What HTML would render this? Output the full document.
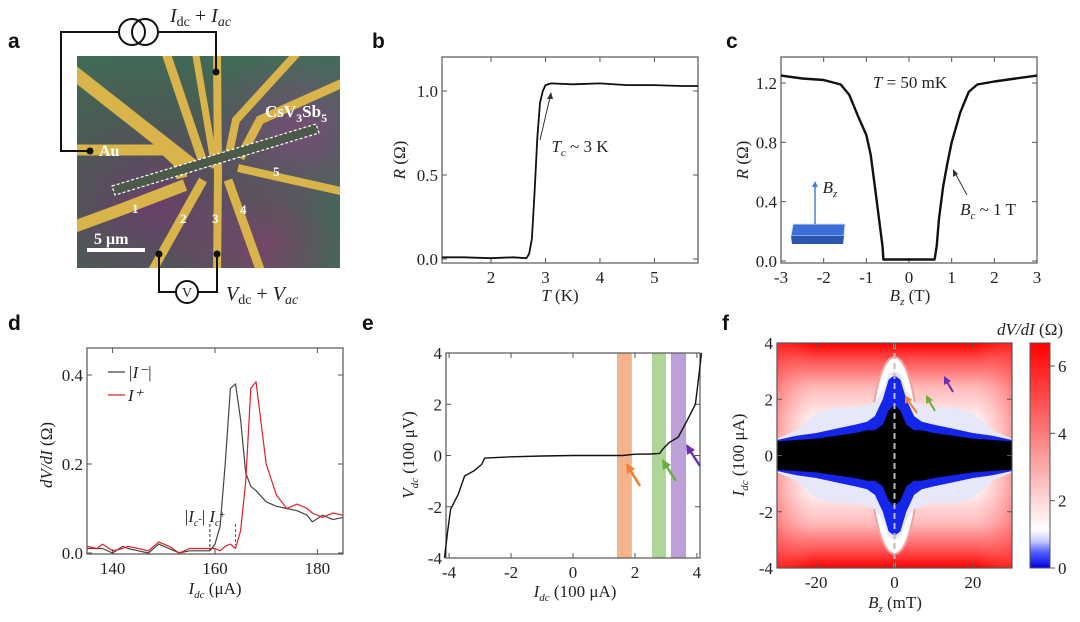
<!DOCTYPE html>
<html><head><meta charset="utf-8"><style>
html,body{margin:0;padding:0;background:#fff;width:1080px;height:622px;overflow:hidden}
svg{display:block}
text{font-family:"Liberation Serif",serif;fill:#222}
.pl{font-family:"Liberation Sans",sans-serif;font-weight:bold;font-size:21px;fill:#111}
.tk{font-size:17px}
.lb{font-size:17px}
</style></head><body>
<svg id="fig" width="1080" height="622" viewBox="0 0 1080 622" xmlns="http://www.w3.org/2000/svg">
<defs>
<radialGradient id="chip1" cx="0.3" cy="0.7" r="0.8"><stop offset="0" stop-color="#6a3f6a"/><stop offset="0.5" stop-color="#4b5a55"/><stop offset="1" stop-color="#3f6e55"/></radialGradient>
<radialGradient id="chip2" cx="0.85" cy="0.35" r="0.4"><stop offset="0" stop-color="#7a4a78" stop-opacity="0.9"/><stop offset="1" stop-color="#7a4a78" stop-opacity="0"/></radialGradient>
<radialGradient id="chip3" cx="0.7" cy="0.9" r="0.35"><stop offset="0" stop-color="#80406e" stop-opacity="0.8"/><stop offset="1" stop-color="#80406e" stop-opacity="0"/></radialGradient>
<linearGradient id="fbg" x1="0" y1="0" x2="0" y2="1">
<stop offset="0" stop-color="#f00"/><stop offset="0.08" stop-color="#f55"/><stop offset="0.2" stop-color="#fbb"/><stop offset="0.33" stop-color="#fee"/><stop offset="0.5" stop-color="#fff"/><stop offset="0.67" stop-color="#fee"/><stop offset="0.8" stop-color="#fbb"/><stop offset="0.92" stop-color="#f55"/><stop offset="1" stop-color="#f00"/></linearGradient>
<linearGradient id="fside" x1="0" y1="0" x2="1" y2="0">
<stop offset="0" stop-color="#f44" stop-opacity="0.5"/><stop offset="0.15" stop-color="#f88" stop-opacity="0"/><stop offset="0.85" stop-color="#f88" stop-opacity="0"/><stop offset="1" stop-color="#f44" stop-opacity="0.5"/></linearGradient>
<linearGradient id="cbar" x1="0" y1="1" x2="0" y2="0">
<stop offset="0" stop-color="#0000e0"/><stop offset="0.07" stop-color="#5060ff"/><stop offset="0.12" stop-color="#c8ccff"/><stop offset="0.17" stop-color="#fff"/><stop offset="0.5" stop-color="#fa9a9a"/><stop offset="1" stop-color="#f00"/></linearGradient>
<clipPath id="fclip"><rect x="777" y="343" width="235" height="225"/></clipPath>
<clipPath id="aclip"><rect x="77" y="56" width="263" height="212"/></clipPath>
</defs>

<text class="pl" x="8" y="48">a</text>
<text class="pl" x="372" y="48">b</text>
<text class="pl" x="726" y="48">c</text>
<text class="pl" x="8" y="330">d</text>
<text class="pl" x="362" y="330">e</text>
<text class="pl" x="722" y="330">f</text>

<g id="pa">
<g clip-path="url(#aclip)">
<rect x="77" y="56" width="263" height="212" fill="url(#chip1)"/>
<rect x="77" y="56" width="263" height="212" fill="url(#chip2)"/>
<rect x="77" y="56" width="263" height="212" fill="url(#chip3)"/>
<g fill="none" stroke="#d8b44a" stroke-linecap="butt">
<polyline points="60,150 165,150 178,162 182,178" stroke-width="11"/>
<polyline points="60,232 120,210 185,185" stroke-width="12"/>
<polyline points="60,62 195,168" stroke-width="14"/>
<polyline points="165,50 205,168" stroke-width="9"/>
<polyline points="195,50 215,168" stroke-width="7"/>
<polyline points="217,50 218,175 217,275" stroke-width="8"/>
<polyline points="203,180 150,275" stroke-width="9"/>
<polyline points="228,180 262,275" stroke-width="9"/>
<polyline points="238,168 345,192" stroke-width="8"/>
<polyline points="228,158 236,120 300,50" stroke-width="8"/>
<polyline points="240,158 260,120 345,82" stroke-width="9"/>
</g>
<polygon points="112,186 316,124 319,133 115,195" fill="#4c5a4a" stroke="#fff" stroke-width="1.2" stroke-dasharray="3,2"/>
</g>
<text x="265" y="117" style="fill:#fff;font-weight:bold;font-size:17px">CsV<tspan dy="5" font-size="12">3</tspan><tspan dy="-5">Sb</tspan><tspan dy="5" font-size="12">5</tspan></text>
<text x="99" y="156" style="fill:#fff;font-weight:bold;font-size:16px">Au</text>
<g style="font-weight:bold;font-size:13px">
<text x="132" y="213" style="fill:#fff">1</text><text x="180" y="223" style="fill:#fff">2</text><text x="212" y="223" style="fill:#fff">3</text><text x="240" y="214" style="fill:#fff">4</text><text x="273" y="176" style="fill:#fff">5</text>
<text x="94" y="244" style="fill:#fff;font-size:16px">5 μm</text>
</g>
<rect x="87" y="248" width="58" height="4" fill="#fff"/>
<g fill="none" stroke="#111" stroke-width="2">
<polyline points="90,151 61,151 61,32 119,32"/>
<polyline points="158,32 216,32 216,72"/>
<circle cx="132" cy="32" r="13"/><circle cx="145" cy="32" r="13"/>
<polyline points="159,254 159,292 176,292"/>
<polyline points="198,292 217,292 217,254"/>
<circle cx="187" cy="292" r="11"/>
</g>
<g fill="#111"><circle cx="90" cy="151" r="3.5"/><circle cx="216" cy="72" r="3.5"/><circle cx="159" cy="254" r="3.5"/><circle cx="217" cy="254" r="3.5"/></g>
<text x="182" y="297" style="font-size:14px">V</text>
<text x="170" y="22" style="font-size:20px"><tspan font-style="italic">I</tspan><tspan font-size="14" dy="4">dc</tspan><tspan dy="-4"> + </tspan><tspan font-style="italic">I</tspan><tspan font-size="14" dy="4" font-style="italic">ac</tspan></text>
<text x="226" y="300" style="font-size:20px"><tspan font-style="italic">V</tspan><tspan font-size="14" dy="4">dc</tspan><tspan dy="-4"> + </tspan><tspan font-style="italic">V</tspan><tspan font-size="14" dy="4" font-style="italic">ac</tspan></text>
</g>
</svg>
<script>
// ---- data ----
const bT=[1.1,1.5,2.0,2.4,2.65,2.7,2.75,2.8,2.85,2.9,2.95,3.0,3.1,3.5,4.0,4.5,5.0,5.5,5.8];
const bR=[0.01,0.01,0.005,0.01,0.005,0.03,0.12,0.4,0.72,0.93,1.0,1.035,1.045,1.04,1.045,1.035,1.035,1.03,1.03];
const bXT=[2,3,4,5], bYT=[0,0.5,1.0];
const cB=[-3,-2.5,-2,-1.6,-1.4,-1.2,-1,-0.9,-0.8,-0.7,-0.62,-0.6,0,0.6,0.65,0.7,0.8,0.9,1,1.2,1.4,1.6,2,2.5,3];
const cR=[1.25,1.23,1.22,1.19,1.12,0.98,0.85,0.72,0.5,0.28,0.1,0.01,0.01,0.01,0.1,0.28,0.5,0.66,0.8,1.0,1.14,1.19,1.21,1.23,1.25];
const cXT=[-3,-2,-1,0,1,2,3], cYT=[0,0.4,0.8,1.2];
const dI=[135,137,138,140,142,143,145,147,149,151,153,155,157,159,160,161,162,163,164,165,166,167,168,170,172,174,176,178,179,181,183,185];
const dNeg=[0.01,0.01,0.01,0.0,0.015,0.01,0.005,0.0,0.02,0.01,0.0,0.005,0.005,0.005,0.02,0.06,0.2,0.37,0.38,0.3,0.18,0.15,0.14,0.115,0.105,0.1,0.095,0.085,0.07,0.085,0.075,0.08];
const dPos=[0.015,0.01,0.02,0.005,0.01,0.015,0.01,0.005,0.025,0.015,0.0,0.01,0.01,0.01,0.01,0.005,0.015,0.02,0.01,0.05,0.16,0.37,0.385,0.2,0.13,0.1,0.11,0.1,0.09,0.08,0.09,0.085];
const dXT=[140,160,180], dYT=[0,0.2,0.4];
const eI=[-4.15,-4.05,-3.95,-3.7,-3.5,-3.2,-2.95,-2.85,-2.5,-2,-1,0,1,1.6,2,2.5,2.8,2.9,3.1,3.4,3.7,3.95,4.05,4.15];
const eV=[-4,-3,-2.1,-1.5,-0.8,-0.6,-0.35,-0.1,-0.08,-0.05,-0.02,0,0,0,0.05,0.06,0.08,0.25,0.5,0.72,1.4,2,3,4];
const eBands=[[1.42,1.9,"#f2a777"],[2.55,3.0,"#9fcf86"],[3.16,3.65,"#b08fd0"]];
const eXT=[-4,-2,0,2,4], eYT=[-4,-2,0,2,4];
const fB=[-30,-25,-20,-15,-10,-7,-5,-3,-1.5,0,1.5,3,5,7,10,15,20,25,30];
const fBlack=[0.5,0.55,0.6,0.7,0.8,0.9,0.9,1.1,1.6,1.8,1.6,1.1,0.9,0.9,0.8,0.7,0.6,0.55,0.5];
const fBlue=[0.55,0.7,0.8,0.95,1.1,1.2,1.4,2.0,2.7,2.85,2.7,2.0,1.4,1.2,1.1,0.95,0.8,0.7,0.55];
const fLight=[0.6,0.9,1.5,1.7,1.7,1.8,1.9,2.3,2.9,3.0,2.9,2.3,1.9,1.8,1.7,1.7,1.5,0.9,0.6];
const fXT=[-20,0,20], fYT=[-4,-2,0,2,4], fCT=[0,2,4,6];

// ---- helpers ----
const NS="http://www.w3.org/2000/svg";
const svg=document.getElementById('fig');
function mk(tag,attrs,parent){const e=document.createElementNS(NS,tag);for(const k in attrs)e.setAttribute(k,attrs[k]);(parent||svg).appendChild(e);return e;}
function txt(x,y,s,cls,anchor,parent){const t=mk('text',{x:x,y:y,'class':cls,'text-anchor':anchor||'middle'},parent);t.textContent=s;return t;}
function lin(a0,a1,p0,p1){return v=>p0+(v-a0)*(p1-p0)/(a1-a0);}
function frame(x0,y0,x1,y1,sx,sy,xt,yt,xfmt,yfmt,name){
  const g=mk('g',{});
  
  
  mk('rect',{x:x0,y:y0,width:x1-x0,height:y1-y0,fill:'none',stroke:'#555','stroke-width':1.2},g);
  xt.forEach(v=>{const x=sx(v);mk('line',{x1:x,y1:y1,x2:x,y2:y1-5,stroke:'#555'},g);mk('line',{x1:x,y1:y0,x2:x,y2:y0+5,stroke:'#555'},g);
    const t=txt(x,y1+20,xfmt(v),'tk','middle',g);});
  yt.forEach(v=>{const y=sy(v);mk('line',{x1:x0,y1:y,x2:x0+5,y2:y,stroke:'#555'},g);mk('line',{x1:x1,y1:y,x2:x1-5,y2:y,stroke:'#555'},g);
    const t=txt(x0-4,y+6,yfmt(v),'tk','end',g);});
  return g;
}
function path(xs,ys,sx,sy,color,w,name){
  const d=xs.map((v,i)=>(i?'L':'M')+sx(v).toFixed(1)+','+sy(ys[i]).toFixed(1)).join('');
  const p=mk('path',{d:d,fill:'none',stroke:color,'stroke-width':w,'stroke-linejoin':'round'});
  
  
  return p;
}
function ylab(x,y,html,name){const t=mk('text',{x:x,y:y,'class':'lb','text-anchor':'middle',transform:`rotate(-90 ${x} ${y})`});t.innerHTML=html;return t;}
function xlab(x,y,html,name){const t=mk('text',{x:x,y:y,'class':'lb','text-anchor':'middle'});t.innerHTML=html;return t;}
const f1=v=>v.toFixed(1), f0=v=>String(v);

// ---- panel b ----
{const sx=lin(1.1,5.8,442,698), sy=lin(0,1,259,91);
frame(442,57,698,263,sx,sy,bXT,bYT,f0,f1,'plot-b-axes');
path(bT,bR,sx,sy,'#111',1.8,'rt-curve');
mk('line',{x1:540,y1:140,x2:551,y2:93,stroke:'#333','stroke-width':1});
mk('path',{d:'M551,92 l-4,7 l6,0 z',fill:'#333'});
xlab(580,152,'<tspan font-style="italic">T</tspan><tspan font-size="11" dy="4" font-style="italic">c</tspan><tspan dy="-4"> ~ 3 K</tspan>','tc-annotation');
xlab(560,301,'<tspan font-style="italic">T</tspan> (K)','x-axis-title-b');
ylab(405,160,'<tspan font-style="italic">R</tspan> (Ω)','y-axis-title-b');}

// ---- panel c ----
{const sx=lin(-3,3,781,1037), sy=lin(0,1.2,261,83);
frame(781,57,1037,263,sx,sy,cXT,cYT,f0,f1,'plot-c-axes');
path(cB,cR,sx,sy,'#111',2.4,'rb-curve');
xlab(910,88,'<tspan font-style="italic">T</tspan> = 50 mK','temperature-annotation');
mk('line',{x1:967,y1:195,x2:954,y2:171,stroke:'#333'});
mk('path',{d:'M953,169 l0,8 l5,-3 z',fill:'#333'});
xlab(988,215,'<tspan font-style="italic">B</tspan><tspan font-size="11" dy="4" font-style="italic">c</tspan><tspan dy="-4"> ~ 1 T</tspan>','bc-annotation');
xlab(910,301,'<tspan font-style="italic">B</tspan><tspan font-size="11" dy="4" font-style="italic">z</tspan><tspan dy="-4"> (T)</tspan>','x-axis-title-c');
ylab(748,160,'<tspan font-style="italic">R</tspan> (Ω)','y-axis-title-c');
const ins=mk('g',{});
mk('polygon',{points:'793,224 845,224 844,236 791,236',fill:'#3b6fd6',stroke:'#cfe0ff'},ins);
mk('polygon',{points:'791,236 844,236 843,244 792,244',fill:'#2a55b0'},ins);
mk('line',{x1:815,y1:224,x2:815,y2:185,stroke:'#4a7fd4','stroke-width':1.5},ins);
mk('path',{d:'M815,181 l-3,6 l6,0 z',fill:'#4a7fd4'},ins);
xlab(830,193,'<tspan font-style="italic">B</tspan><tspan font-size="11" dy="4" font-style="italic">z</tspan>','bz-inset-label');}

// ---- panel d ----
{const sx=lin(135,185,87,343), sy=lin(0,0.4,553,375);
frame(87,348,343,554,sx,sy,dXT,dYT,f0,f1,'plot-d-axes');
path(dI,dNeg,sx,sy,'#444',1.2,'i-minus-curve');
path(dI,dPos,sx,sy,'#e0202a',1.2,'i-plus-curve');
mk('line',{x1:sx(159),y1:524,x2:sx(159),y2:551,stroke:'#333','stroke-dasharray':'3,2'});
mk('line',{x1:sx(164),y1:524,x2:sx(164),y2:545,stroke:'#e0202a','stroke-dasharray':'3,2'});
xlab(205,522,'|<tspan font-style="italic">I</tspan><tspan font-size="10" dy="4" font-style="italic">c</tspan><tspan dy="-4" font-size="10">-</tspan>| <tspan font-style="italic">I</tspan><tspan font-size="10" dy="4" font-style="italic">c</tspan><tspan dy="-8" font-size="10">+</tspan>','ic-annotation');
const lg=mk('g',{});
mk('line',{x1:108,y1:372,x2:125,y2:372,stroke:'#444','stroke-width':1.3},lg);
mk('line',{x1:108,y1:395,x2:125,y2:395,stroke:'#e0202a','stroke-width':1.3},lg);
txt(128,378,'|I\u207B|','lb','start',lg).setAttribute('font-style','italic');
txt(128,401,'I\u207A','lb','start',lg).setAttribute('font-style','italic');
xlab(215,594,'<tspan font-style="italic">I</tspan><tspan font-size="11" dy="4" font-style="italic">dc</tspan><tspan dy="-4"> (μA)</tspan>','x-axis-title-d');
ylab(52,455,'<tspan font-style="italic">dV/dI</tspan> (Ω)','y-axis-title-d');}

// ---- panel e ----
{const sx=lin(-4.1,4.1,446,700), sy=lin(-4,4,558,353);
eBands.forEach(b=>{const r=mk('rect',{x:sx(b[0]),y:353,width:sx(b[1])-sx(b[0]),height:205,fill:b[2],opacity:0.85});
 });
frame(446,353,700,558,sx,sy,eXT,eYT,f0,f0,'plot-e-axes');
path(eI,eV,sx,sy,'#111',1.4,'iv-curve');
[[640,486,626,463,'#f08030'],[676,481,662,459,'#68b040'],[700,466,686,444,'#6a30b0']].forEach(a=>{
 const g=mk('g',{});
 mk('line',{x1:a[0],y1:a[1],x2:a[2]+3,y2:a[3]+5,stroke:a[4],'stroke-width':2.5},g);
 mk('path',{d:`M${a[2]},${a[3]} l1,11 l8,-5 z`,fill:a[4]},g);});
xlab(575,597,'<tspan font-style="italic">I</tspan><tspan font-size="11" dy="4" font-style="italic">dc</tspan><tspan dy="-4"> (100 μA)</tspan>','x-axis-title-e');
ylab(414,455,'<tspan font-style="italic">V</tspan><tspan font-size="11" dy="4" font-style="italic">dc</tspan><tspan dy="-4"> (100 μV)</tspan>','y-axis-title-e');}

// ---- panel f ----
{const sx=lin(-30,30,777,1012), sy=lin(-4,4,568,343);
const g=mk('g',{'clip-path':'url(#fclip)'});

mk('rect',{x:777,y:343,width:235,height:225,fill:'url(#fbg)'},g);
mk('rect',{x:777,y:343,width:235,height:225,fill:'url(#fside)'},g);
mk('ellipse',{cx:sx(0),cy:sy(0),rx:24,ry:sy(-3.5)-sy(0),fill:'#fff',stroke:'#f4a0a0','stroke-width':2},g);
function band(vals,color,name){
 const top=fB.map((b,i)=>sx(b).toFixed(1)+','+sy(vals[i]).toFixed(1));
 const bot=fB.slice().reverse().map((b,j)=>{const i=fB.length-1-j;return sx(b).toFixed(1)+','+sy(-vals[i]).toFixed(1);});
 const p=mk('polygon',{points:top.concat(bot).join(' '),fill:color},g);
 }
band(fLight,'#e6e8fa','light-blue-region');
band(fBlue,'#1525ea','blue-region');
band(fBlack,'#000','zero-resistance-region');
mk('line',{x1:sx(0),y1:343,x2:sx(0),y2:568,stroke:'#bbb','stroke-width':2,'stroke-dasharray':'6,4'},g);
frame(777,343,1012,568,sx,sy,fXT,fYT,f0,f0,'plot-f-axes');
[[917,413,905,395,'#f08030'],[935,411,926,395,'#68b040'],[953,392,944,376,'#6a30b0']].forEach(a=>{
 const ag=mk('g',{});
 mk('line',{x1:a[0],y1:a[1],x2:a[2]+2,y2:a[3]+4,stroke:a[4],'stroke-width':2},ag);
 mk('path',{d:`M${a[2]},${a[3]} l0,9 l7,-4 z`,fill:a[4]},ag);});
xlab(895,608,'<tspan font-style="italic">B</tspan><tspan font-size="11" dy="4" font-style="italic">z</tspan><tspan dy="-4"> (mT)</tspan>','x-axis-title-f');
ylab(744,455,'<tspan font-style="italic">I</tspan><tspan font-size="11" dy="4" font-style="italic">dc</tspan><tspan dy="-4"> (100 μA)</tspan>','y-axis-title-f');
const sc=lin(0,6,568,366);
const cb=mk('g',{});
mk('rect',{x:1030,y:343,width:20,height:225,fill:'url(#cbar)',stroke:'#555'},cb);
fCT.forEach(v=>{mk('line',{x1:1050,y1:sc(v),x2:1055,y2:sc(v),stroke:'#555'},cb);
 const t=txt(1058,sc(v)+6,String(v),'tk','start',cb);});
xlab(1030,335,'<tspan font-style="italic">dV/dI</tspan> (Ω)','colorbar-title');}
</script>
</body></html>
